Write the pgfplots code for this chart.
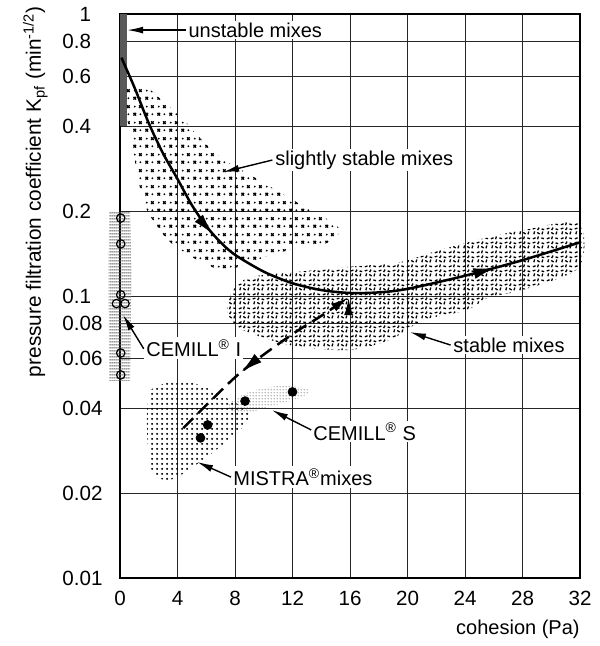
\documentclass[border=0pt]{standalone}
\usepackage{fontspec}
\setmainfont{Liberation Sans}
\usepackage{pgfplots}
\pgfplotsset{compat=1.18}
\usetikzlibrary{patterns, arrows.meta, decorations.markings}

\pgfdeclarepatternformonly{xmarks}{\pgfqpoint{0pt}{0pt}}{\pgfqpoint{6pt}{8pt}}{\pgfqpoint{6pt}{8pt}}{
 \pgfsetlinewidth{0.7pt}
 \pgfpathmoveto{\pgfqpoint{0.8pt}{1.3pt}}\pgfpathlineto{\pgfqpoint{2.2pt}{2.7pt}}
 \pgfpathmoveto{\pgfqpoint{0.8pt}{2.7pt}}\pgfpathlineto{\pgfqpoint{2.2pt}{1.3pt}}
 \pgfpathmoveto{\pgfqpoint{3.8pt}{5.3pt}}\pgfpathlineto{\pgfqpoint{5.2pt}{6.7pt}}
 \pgfpathmoveto{\pgfqpoint{3.8pt}{6.7pt}}\pgfpathlineto{\pgfqpoint{5.2pt}{5.3pt}}
 \pgfusepath{stroke}
 \pgfpathcircle{\pgfqpoint{4.5pt}{2pt}}{0.55pt}
 \pgfpathcircle{\pgfqpoint{1.5pt}{6pt}}{0.55pt}
 \pgfusepath{fill}}

\pgfdeclarepatternformonly{scribble}{\pgfqpoint{0pt}{0pt}}{\pgfqpoint{7pt}{7pt}}{\pgfqpoint{7pt}{7pt}}{
 \pgfsetlinewidth{0.7pt}
 \pgfpathmoveto{\pgfqpoint{0.5pt}{0.6pt}}\pgfpathlineto{\pgfqpoint{1.9pt}{1.2pt}}
 \pgfpathmoveto{\pgfqpoint{3.0pt}{0.4pt}}\pgfpathlineto{\pgfqpoint{3.4pt}{1.9pt}}
 \pgfpathmoveto{\pgfqpoint{5.0pt}{1.1pt}}\pgfpathlineto{\pgfqpoint{6.4pt}{0.7pt}}
 \pgfpathmoveto{\pgfqpoint{1.0pt}{3.1pt}}\pgfpathlineto{\pgfqpoint{1.4pt}{4.6pt}}
 \pgfpathmoveto{\pgfqpoint{2.8pt}{4.0pt}}\pgfpathlineto{\pgfqpoint{4.1pt}{3.2pt}}
 \pgfpathmoveto{\pgfqpoint{5.3pt}{3.0pt}}\pgfpathlineto{\pgfqpoint{5.8pt}{4.5pt}}
 \pgfpathmoveto{\pgfqpoint{0.4pt}{5.9pt}}\pgfpathlineto{\pgfqpoint{1.8pt}{6.3pt}}
 \pgfpathmoveto{\pgfqpoint{3.0pt}{5.3pt}}\pgfpathlineto{\pgfqpoint{3.8pt}{6.6pt}}
 \pgfpathmoveto{\pgfqpoint{5.1pt}{5.9pt}}\pgfpathlineto{\pgfqpoint{6.5pt}{5.5pt}}
 \pgfusepath{stroke}}

\pgfdeclarepatternformonly{densedots}{\pgfqpoint{0pt}{0pt}}{\pgfqpoint{2.5pt}{2.5pt}}{\pgfqpoint{2.5pt}{2.5pt}}{
 \pgfpathcircle{\pgfqpoint{1.25pt}{1.25pt}}{0.65pt}\pgfusepath{fill}}

\pgfdeclarepatternformonly{finedots}{\pgfqpoint{0pt}{0pt}}{\pgfqpoint{1.5pt}{1.5pt}}{\pgfqpoint{1.5pt}{1.5pt}}{
 \pgfpathcircle{\pgfqpoint{0.75pt}{0.75pt}}{0.34pt}\pgfusepath{fill}}

\pgfdeclarepatternformonly{hlinesfine}{\pgfqpoint{0pt}{0pt}}{\pgfqpoint{1pt}{1.5pt}}{\pgfqpoint{1pt}{1.5pt}}{
 \pgfsetlinewidth{0.6pt}
 \pgfpathmoveto{\pgfqpoint{-0.1pt}{0.75pt}}\pgfpathlineto{\pgfqpoint{1.1pt}{0.75pt}}
 \pgfusepath{stroke}}

\begin{document}
\begin{tikzpicture}
\useasboundingbox (-60pt,-34pt) rectangle (239.5pt,289pt);
\begin{axis}[
 at={(0pt,0pt)}, anchor=south west,
 scale only axis, width=230pt, height=282pt,
 xmin=0, xmax=32, ymin=0.01, ymax=1, ymode=log,
 xtick={0,4,...,32},
 xticklabels={0,4,8,12,16,20,24,28,32},
 ytick={0.01,0.02,0.04,0.06,0.08,0.1,0.2,0.4,0.6,0.8,1},
 yticklabels={0.01,0.02,0.04,0.06,0.08,0.1,0.2,0.4,0.6,0.8,\hphantom{0.}1},
 grid=major, grid style={black!85, line width=0.4pt},
 major tick length=0pt,
 axis line style={line width=0.8pt},
 tick label style={font=\fontsize{10.3}{12}\selectfont},
 yticklabel style={anchor=west, xshift=-29pt, inner sep=0pt},
 xticklabel style={yshift=-3pt},
 clip=false,
]
% unstable strip
\addplot[draw=none, fill=black!65] coordinates {(0,0.4) (0.5,0.4) (0.5,1) (0,1)} -- cycle;
% CEMILL I hatch
\addplot[draw=none, pattern=hlinesfine, pattern color=black!60] coordinates {(-0.75,0.05) (0.7,0.05) (0.8,0.12) (0.7,0.2) (-0.75,0.2) (-0.8,0.12)} -- cycle;
% slightly stable
\addplot[draw=none, pattern=xmarks, smooth, tension=0.6] coordinates {
 (0.45,0.55) (1.6,0.56) (3.0,0.49) (4.3,0.43) (5.2,0.38) (7,0.31) (9,0.27) (11,0.235) (13,0.205) (15.2,0.175)
 (14.5,0.155) (12.5,0.148) (10.5,0.14) (8.5,0.128) (6.75,0.125) (4.0,0.148) (2.6,0.176) (1.6,0.22) (0.9,0.33) (0.45,0.45) (0.45,0.55)} -- cycle;
% stable
\addplot[draw=none, pattern=scribble, smooth, tension=0.5] coordinates {
 (7.5,0.097) (8.35,0.112) (10,0.119) (12.5,0.122) (16,0.127) (19.5,0.132) (22.3,0.146) (25.7,0.162) (28,0.171) (31.9,0.181)
 (31.9,0.126) (28,0.105) (25.7,0.099) (24.1,0.089) (21.1,0.082) (18.8,0.07) (16,0.0644) (12.5,0.066) (10,0.071) (8.1,0.078) (7.5,0.087) (7.5,0.097)} -- cycle;
% MISTRA
\addplot[draw=none, pattern=densedots, smooth, tension=0.6] coordinates {
 (2.09,0.0464) (3.97,0.0504) (6.05,0.0472) (7.65,0.0428) (8.83,0.0394) (8.8,0.0355) (6.96,0.0292) (5.1,0.0248)
 (3.48,0.0223) (2.3,0.0235) (1.95,0.0292) (1.88,0.0385) (2.09,0.0464)} -- cycle;
% CEMILL S
\addplot[draw=none, pattern=finedots, pattern color=black!75, smooth, tension=0.6] coordinates {
 (7.5,0.041) (8.1,0.0435) (9.3,0.0462) (11.1,0.048) (12.5,0.0475) (13.2,0.046) (12.5,0.0435) (10.4,0.0405) (8.8,0.0385) (7.8,0.039) (7.5,0.041)} -- cycle;

% main curve
\addplot[line width=1.25pt, smooth, postaction={decorate},
 decoration={markings,
  mark=at position 0.34 with {\arrow{Latex[length=11pt,width=5.5pt]}},
  mark=at position 0.85 with {\arrow{Latex[length=11pt,width=5.5pt]}}}] coordinates {
 (0.1,0.70) (1,0.55) (2,0.41) (3,0.32) (4,0.26) (5,0.21) (6,0.177) (7,0.155) (8,0.14) (10,0.122) (12,0.111)
 (14,0.105) (16,0.1025) (18,0.103) (20,0.106) (24,0.118) (28,0.134) (32,0.155)};
% dashed curve
\addplot[line width=1.25pt, dash pattern=on 7pt off 3.5pt, smooth, -{Latex[length=9pt,width=4.5pt]},
 postaction={decorate},
 decoration={markings, mark=at position 0.38 with {\arrowreversed{Latex[length=11pt,width=5.5pt]}}}] coordinates {
 (4.4,0.034) (6,0.041) (8.1,0.052) (10,0.062) (12.3,0.075) (14,0.085) (15.9,0.099)};

% CEMILL I points
\addplot[only marks, mark=o, mark size=2.1pt, mark options={fill=white, line width=0.6pt}] coordinates {
 (0.05,0.189) (0.05,0.153) (0.05,0.101) (-0.25,0.094) (0.35,0.094) (0.05,0.0628) (0.05,0.0525)};
% black points
\addplot[only marks, mark=*, mark size=2.2pt] coordinates {(8.7,0.0424) (12.0,0.0457) (6.1,0.0349) (5.6,0.0314)};

% labels
\node[anchor=west, inner sep=1pt, fill=white] at (axis cs:4.6,0.877) {unstable mixes};
\draw[line width=0.7pt, -{Latex[length=8pt,width=3.5pt]}] (axis cs:4.6,0.877) -- (axis cs:0.5,0.877);
\node[anchor=west, inner sep=1pt, fill=white] at (axis cs:10.64,0.3035) {slightly stable mixes};
\draw[line width=0.7pt, -{Latex[length=8pt,width=3.5pt]}] (axis cs:10.6,0.3035) -- (axis cs:7.17,0.275);
\node[anchor=west, inner sep=1pt, fill=white] at (axis cs:23.03,0.067) {stable mixes};
\draw[line width=0.7pt, -{Latex[length=8pt,width=3.5pt]}] (axis cs:23.0,0.067) -- (axis cs:20.17,0.0745);
\node[anchor=west, inner sep=1pt, fill=white] at (axis cs:1.67,0.0654) {CEMILL\textsuperscript{®} I};
\draw[line width=0.7pt, -{Latex[length=8pt,width=3.5pt]}] (axis cs:1.65,0.065) -- (axis cs:0.21,0.0857);
\node[anchor=west, inner sep=1pt, fill=white] at (axis cs:13.29,0.033) {CEMILL\textsuperscript{®} S};
\draw[line width=0.7pt, -{Latex[length=8pt,width=3.5pt]}] (axis cs:13.3,0.0335) -- (axis cs:10.57,0.0394);
\node[anchor=west, inner sep=1pt, fill=white] at (axis cs:7.72,0.0228) {MISTRA\textsuperscript{®}mixes};
\draw[line width=0.7pt, -{Latex[length=8pt,width=3.5pt]}] (axis cs:7.72,0.0228) -- (axis cs:5.36,0.0258);
\end{axis}
\node[rotate=90, anchor=south east, inner sep=0pt, font=\fontsize{10.4}{12}\selectfont] at (-36pt,286pt) {pressure filtration coefficient K\textsubscript{pf} (min\textsuperscript{-1/2})};
\node[anchor=base east, inner sep=0pt] at (230pt,-28pt) {cohesion (Pa)};
\end{tikzpicture}
\end{document}
